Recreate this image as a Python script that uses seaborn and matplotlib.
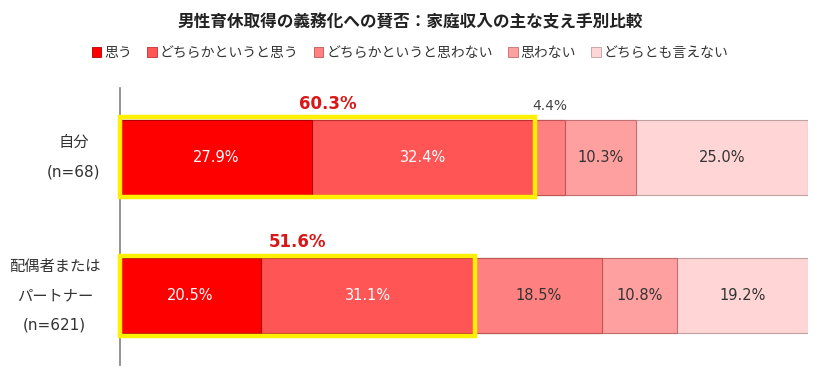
import numpy as np
import pandas as pd
import matplotlib
matplotlib.use("Agg")
import matplotlib.pyplot as plt
from matplotlib.patches import Rectangle, Patch
import seaborn as sns

title = "男性育休取得の義務化への賛否：家庭収入の主な支え手別比較"
groups = ["自分\n(n=68)", "配偶者または\nパートナー\n(n=621)"]
answers = ["思う", "どちらかというと思う", "どちらかというと思わない", "思わない", "どちらとも言えない"]
self_vals = [27.9, 32.4, 4.4, 10.3, 25.0]
partner_vals = [20.5, 31.1, 18.5, 10.8, 19.2]
agree_totals = [60.3, 51.6]

colors = ["#FF0000", "#FF5555", "#FF8080", "#FFA0A0", "#FFD5D5"]
edges = ["#B00000", "#C03030", "#C05555", "#C07070", "#C0A0A0"]
text_colors = ["white", "white", "#333333", "#333333", "#333333"]

sns.set_theme(style="white")
plt.rcParams["font.family"] = ["Noto Sans CJK JP", "DejaVu Sans"]
num_font = ["DejaVu Sans", "Noto Sans CJK JP"]

df = pd.DataFrame([self_vals, partner_vals], columns=answers)
df["group"] = groups
cum = df[answers].cumsum(axis=1)
cum["group"] = groups

fig = plt.figure(figsize=(8.2, 3.68), dpi=100)
ax = fig.add_axes([120 / 820, 3 / 368, 688 / 820, 277 / 368])

bar_w = 0.54
for i in reversed(range(len(answers))):
    sns.barplot(data=cum, x=answers[i], y="group", orient="h", color=colors[i],
                width=bar_w, edgecolor=edges[i], linewidth=0.8, saturation=1, ax=ax)

# labels inside segments
for r in range(len(groups)):
    vals = df.loc[r, answers].values
    left = 0
    for i, v in enumerate(vals):
        cx = left + v / 2
        if v < 6:
            ax.text(cx, r - bar_w / 2 - 0.05, f"{v:.1f}%", ha="center", va="bottom",
                    fontsize=10, color="#444444", family=num_font)
        else:
            ax.text(cx, r, f"{v:.1f}%", ha="center", va="center",
                    fontsize=10.5, color=text_colors[i], family=num_font)
        left += v
    # yellow highlight around agree segments
    tot = agree_totals[r]
    ax.add_patch(Rectangle((0, r - bar_w / 2 - 0.02), vals[0] + vals[1], bar_w + 0.04,
                           fill=False, edgecolor="#FFF000", linewidth=3.2, zorder=5,
                           clip_on=False))
    ax.text(tot / 2, r - bar_w / 2 - 0.05, f"{tot:.1f}%", ha="center", va="bottom",
            fontsize=12, fontweight="bold", color="#D81818", family=num_font)

ax.set_xlim(0, 100)
ax.set_ylim(1.5, -0.5)
ax.set_xlabel("")
ax.set_ylabel("")
ax.set_xticks([])
sns.despine(ax=ax, top=True, right=True, bottom=True)
ax.spines["left"].set_color("#808080")
ax.spines["left"].set_linewidth(1.2)
ax.tick_params(axis="y", length=0, pad=14)
for lab in ax.get_yticklabels():
    lab.set_fontsize(11)
    lab.set_family(num_font)
    lab.set_multialignment("center")
    lab.set_verticalalignment("center")
    lab.set_linespacing(2.2)
    lab.set_color("#333333")

fig.text(0.5, 1 - 22 / 368, title, ha="center", va="center", fontsize=12,
         fontweight="bold", color="#222222")

handles = [Patch(facecolor=c, edgecolor=e, linewidth=0.6) for c, e in zip(colors, edges)]
fig.legend(handles, answers, loc="center", bbox_to_anchor=(0.5, 1 - 53 / 368), ncol=5,
           frameon=False, fontsize=10, handlelength=0.7, handleheight=0.7,
           handletextpad=0.2, columnspacing=1.1, labelcolor="#333333")

fig.savefig("out.png", dpi=100)
